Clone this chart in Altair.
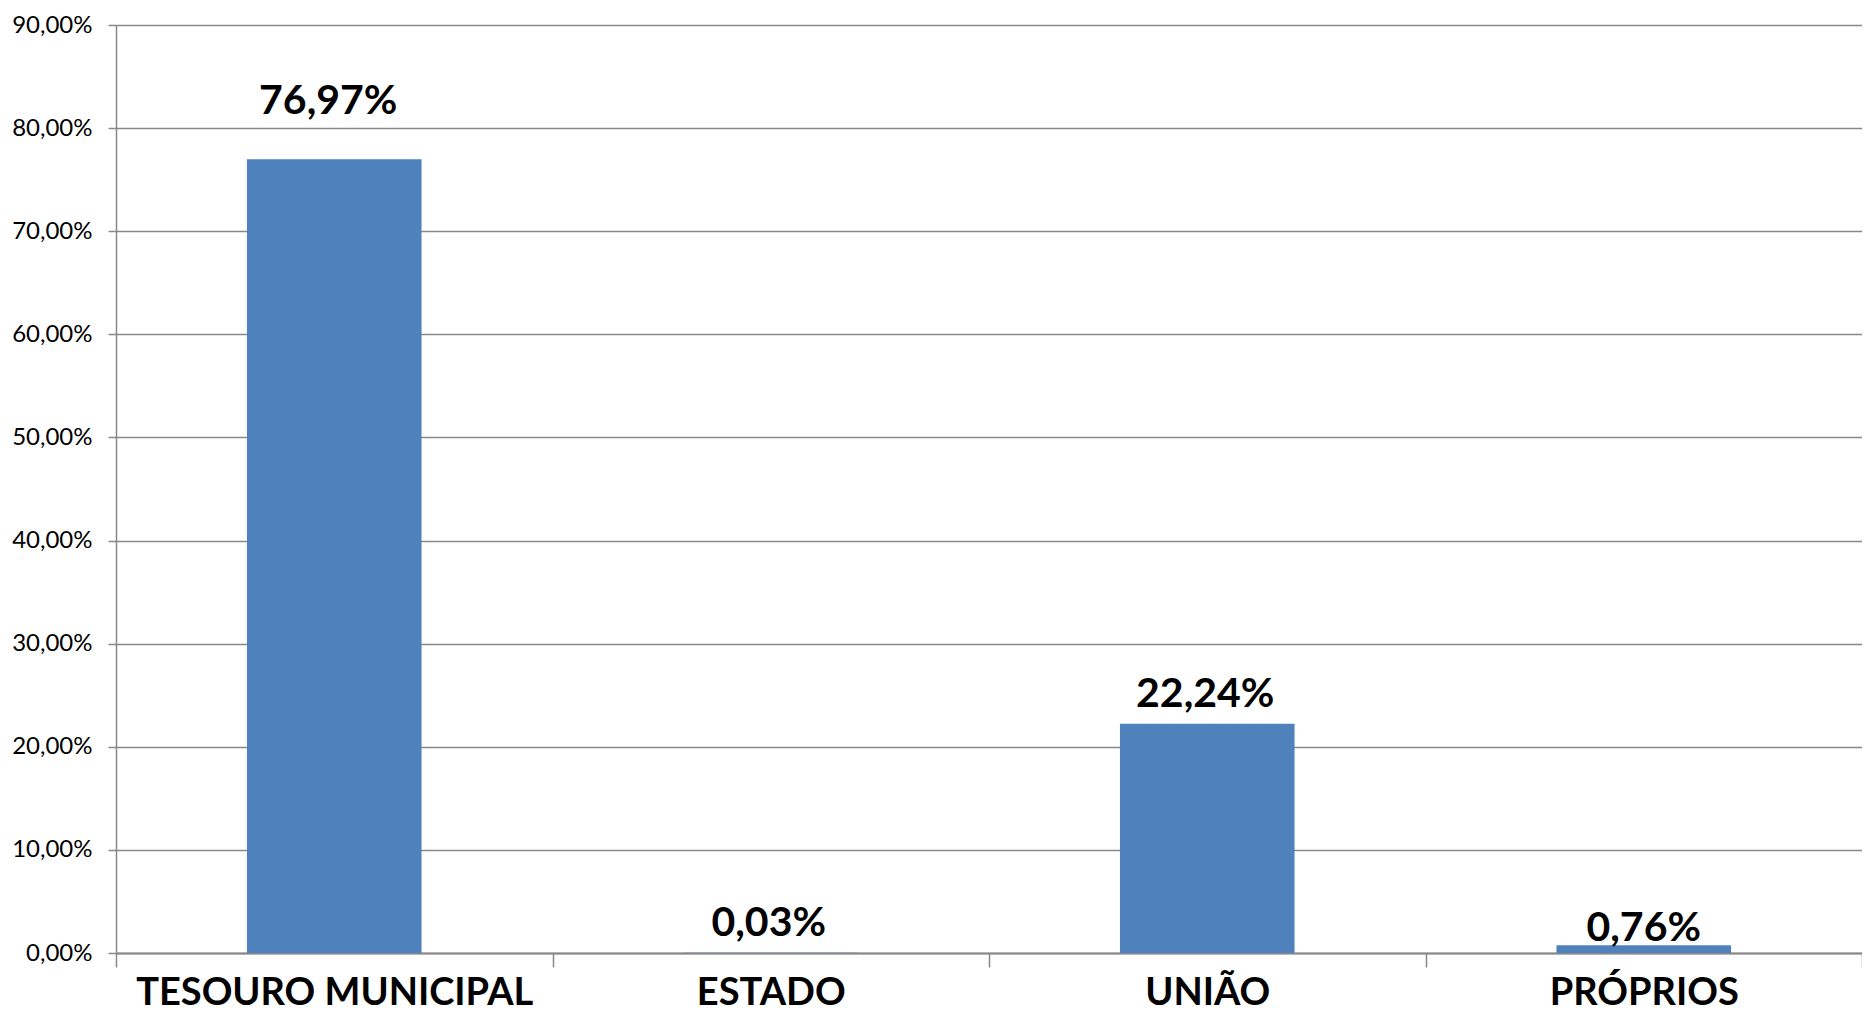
import altair as alt
import pandas as pd

categories = ["TESOURO MUNICIPAL", "ESTADO", "UNIÃO", "PRÓPRIOS"]
values = [76.97, 0.03, 22.24, 0.76]
y_ticks = [0, 10, 20, 30, 40, 50, 60, 70, 80, 90]

df = pd.DataFrame({"cat": categories, "val": values})

FONT = "Lato"
GRID = "#888888"
BLUE = "#4F81BD"

x_scale = alt.Scale(paddingInner=0, paddingOuter=0)

x_enc = alt.X(
    "cat:N",
    sort=categories,
    scale=x_scale,
    axis=alt.Axis(
        title=None,
        labelAngle=0,
        labelFont=FONT,
        labelFontSize=38,
        labelFontWeight="bold",
        labelColor="#000000",
        labelBaseline="alphabetic",
        labelPadding=37,
        labelLimit=0,
        tickBand="extent",
        tickSize=14,
        tickColor=GRID,
        tickWidth=1.5,
        domainColor=GRID,
        domainWidth=2,
        grid=False,
    ),
)

y_scale = alt.Scale(domain=[0, 90], nice=False)

bars = alt.Chart(df).mark_bar(color=BLUE, width=alt.RelativeBandSize(0.4)).encode(
    x=x_enc,
    y=alt.Y(
        "val:Q",
        scale=y_scale,
        axis=alt.Axis(
            title=None,
            values=y_ticks,
            labelExpr="replace(format(datum.value, '.2f'), '.', ',') + '%'",
            labelFont=FONT,
            labelFontSize=24,
            labelColor="#000000",
            labelPadding=16,
            tickSize=8,
            tickColor=GRID,
            tickWidth=1.5,
            domainColor=GRID,
            domainWidth=1.5,
            gridColor=GRID,
            gridWidth=1.5,
        ),
    ),
)

base_text = alt.Chart(df).transform_calculate(
    lbl="replace(format(datum.val, '.2f'), '.', ',') + '%'"
)


def labels(filter_expr, dy, dx=0):
    return base_text.transform_filter(filter_expr).mark_text(
        font=FONT, fontSize=41, fontWeight="bold", color="#000000",
        baseline="alphabetic", dy=dy, dx=dx
    ).encode(
        x=alt.X("cat:N", sort=categories, scale=x_scale),
        y=alt.Y("val:Q", scale=y_scale),
        text="lbl:N",
    )


t1 = labels("datum.cat == 'TESOURO MUNICIPAL'", -45, -6)
t2 = labels("datum.cat == 'ESTADO' || datum.cat == 'UNIÃO'", -17, -2)
t3 = labels("datum.cat == 'PRÓPRIOS'", -4)

chart = alt.layer(bars, t1, t2, t3).properties(
    width=1746,
    height=928,
    padding={"left": 108, "top": 17, "right": 0, "bottom": 60},
    autosize=alt.AutoSizeParams(type="none"),
).configure_view(strokeWidth=0)

chart.save("out.html", embed_options={"renderer": "svg", "actions": False})
